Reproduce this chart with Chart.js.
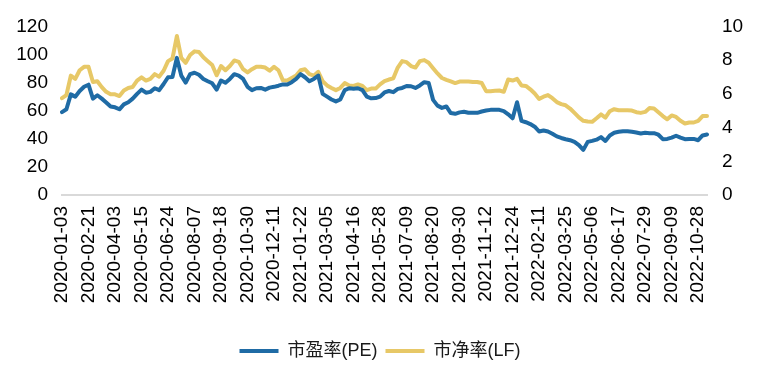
<!DOCTYPE html>
<html>
<head>
<meta charset="utf-8">
<script src="https://cdn.jsdelivr.net/npm/chart.js@4/dist/chart.umd.min.js"></script>
<style>
    body { margin: 0; background: #fff; }
    #wrap { width: 760px; height: 382px; }
</style>
</head>
<body>
<div id="wrap"><canvas id="chart" width="760" height="382"></canvas></div>
<script>
    // weekly data, one tick label every 6 weeks
    var tickLabels = ['2020-01-03', '2020-02-21', '2020-04-03', '2020-05-15', '2020-06-24',
        '2020-08-07', '2020-09-18', '2020-10-30', '2020-12-11', '2021-01-22', '2021-03-05',
        '2021-04-16', '2021-05-28', '2021-07-09', '2021-08-20', '2021-09-30', '2021-11-12',
        '2021-12-24', '2022-02-11', '2022-03-25', '2022-05-06', '2022-06-17', '2022-07-29',
        '2022-09-09', '2022-10-28'];

    // 市盈率(PE), left axis
    var pe = [
        59, 61, 71.6, 70, 74, 77, 78.5, 68.6, 71, 68.6,
        65.9, 63, 62.4, 61, 64.5, 66, 68.6, 72, 75, 72.8,
        73.4, 76, 74.6, 79, 83.8, 84, 97.6, 85, 80, 86,
        87, 85.6, 82.6, 81, 79.5, 75, 81.5, 79.9, 82.6, 86,
        85, 82.6, 77, 74.6, 76, 76.2, 75, 76.4, 77, 77.8,
        78.7, 78.7, 80.3, 82.6, 86, 83.8, 81, 82.6, 85, 72,
        70, 68, 66.6, 68, 74.6, 76, 75.7, 76, 74.6, 70,
        68.8, 69, 70, 73, 74, 73.2, 75.5, 76.2, 77.6, 77.4,
        76.2, 78, 80.3, 79.7, 67.7, 63.6, 62, 63, 58.3, 57.8,
        58.8, 59.2, 58.5, 58.5, 58.5, 59.4, 60.1, 60.6, 60.6, 60.6,
        59.7, 57.4, 54.6, 66, 52.8, 51.8, 50.5, 48.6, 45.2, 45.9,
        45.2, 43.6, 41.7, 40.6, 39.7, 39, 37.8, 35.5, 32.1, 37.8,
        38.5, 39.4, 41.2, 38.5, 42.4, 44.3, 45, 45.4, 45.4, 45,
        44.5, 43.8, 44.3, 44, 44, 42.9, 39.7, 39.9, 40.8, 42.2,
        40.8, 39.7, 39.9, 39.9, 39, 42.4, 43.1
    ];

    // 市净率(LF), right axis
    var lf = [
        5.74, 5.93, 7.08, 6.89, 7.4, 7.6, 7.61, 6.7, 6.75, 6.4,
        6.12, 5.97, 5.97, 5.87, 6.2, 6.35, 6.41, 6.79, 6.98, 6.79,
        6.89, 7.17, 7.02, 7.37, 7.94, 8.09, 9.43, 8.13, 7.84, 8.3,
        8.52, 8.48, 8.17, 7.94, 7.71, 7.1, 7.65, 7.4, 7.65, 7.98,
        7.9, 7.46, 7.27, 7.46, 7.61, 7.61, 7.56, 7.37, 7.6, 7.4,
        6.8, 6.79, 6.94, 7.08, 7.4, 7.46, 7.17, 7.08, 7.31, 6.75,
        6.5, 6.35, 6.22, 6.35, 6.64, 6.5, 6.47, 6.56, 6.47, 6.22,
        6.31, 6.31, 6.56, 6.75, 6.85, 6.92, 7.56, 7.94, 7.88, 7.65,
        7.56, 7.94, 8.0, 7.84, 7.52, 7.21, 6.94, 6.83, 6.74, 6.64,
        6.73, 6.73, 6.73, 6.7, 6.7, 6.64, 6.16, 6.16, 6.18, 6.2,
        6.12, 6.85, 6.79, 6.89, 6.5, 6.47, 6.27, 6.02, 5.7, 5.83,
        5.93, 5.74, 5.51, 5.39, 5.32, 5.13, 4.87, 4.6, 4.4, 4.36,
        4.34, 4.55, 4.78, 4.59, 4.97, 5.09, 5.03, 5.03, 5.03, 5.01,
        4.91, 4.87, 4.93, 5.16, 5.13, 4.91, 4.68, 4.49, 4.72, 4.63,
        4.4, 4.24, 4.3, 4.3, 4.4, 4.68, 4.68
    ];

    var labelEvery = 6;

    // category labels: a date every 6th week, blank otherwise
    var labels = pe.map(function (v, i) {
        return (i % labelEvery === 0 && tickLabels[i / labelEvery]) ? tickLabels[i / labelEvery] : '';
    });

    var tickFont = {family: '"Liberation Sans", Arial, sans-serif', size: 19};

    new Chart(document.getElementById('chart'), {
        type: 'line',
        data: {
            labels: labels,
            datasets: [{
                label: '市盈率(PE)',
                data: pe,
                yAxisID: 'y',
                borderColor: '#1f6ba5',
                backgroundColor: '#1f6ba5',
                borderWidth: 4,
                borderCapStyle: 'round',
                borderJoinStyle: 'round',
                pointRadius: 0,
                tension: 0
            }, {
                label: '市净率(LF)',
                data: lf,
                yAxisID: 'y1',
                borderColor: '#e7c867',
                backgroundColor: '#e7c867',
                borderWidth: 4,
                borderCapStyle: 'round',
                borderJoinStyle: 'round',
                pointRadius: 0,
                tension: 0
            }]
        },
        options: {
            responsive: false,
            animation: false,
            devicePixelRatio: 1,
            layout: {padding: {top: 22, bottom: 12, left: 0, right: 0}},
            plugins: {
                tooltip: {enabled: false},
                legend: {
                    position: 'bottom',
                    labels: {
                        usePointStyle: true,
                        pointStyle: 'line',
                        pointStyleWidth: 39,
                        padding: 8,
                        color: '#1a1a1a',
                        font: {family: '"Liberation Sans", "Noto Sans CJK SC", sans-serif', size: 18}
                    }
                }
            },
            scales: {
                x: {
                    offset: false,
                    grid: {display: false, drawTicks: false},
                    border: {display: true, color: '#d9d9d9', width: 2},
                    ticks: {
                        autoSkip: false,
                        maxRotation: 90,
                        minRotation: 90,
                        padding: 11,
                        color: '#000',
                        font: tickFont
                    },
                    afterFit: function (scale) { scale.height = 139; }
                },
                y: {
                    position: 'left',
                    min: 0,
                    max: 120,
                    grid: {display: false, drawTicks: false},
                    border: {display: false},
                    ticks: {stepSize: 20, padding: 14, color: '#000', font: tickFont},
                    afterFit: function (scale) { scale.width = 62; }
                },
                y1: {
                    position: 'right',
                    min: 0,
                    max: 10,
                    grid: {display: false, drawTicks: false},
                    border: {display: false},
                    ticks: {stepSize: 2, padding: 15, color: '#000', font: tickFont},
                    afterFit: function (scale) { scale.width = 53; }
                }
            }
        }
    });
</script>
</body>
</html>
